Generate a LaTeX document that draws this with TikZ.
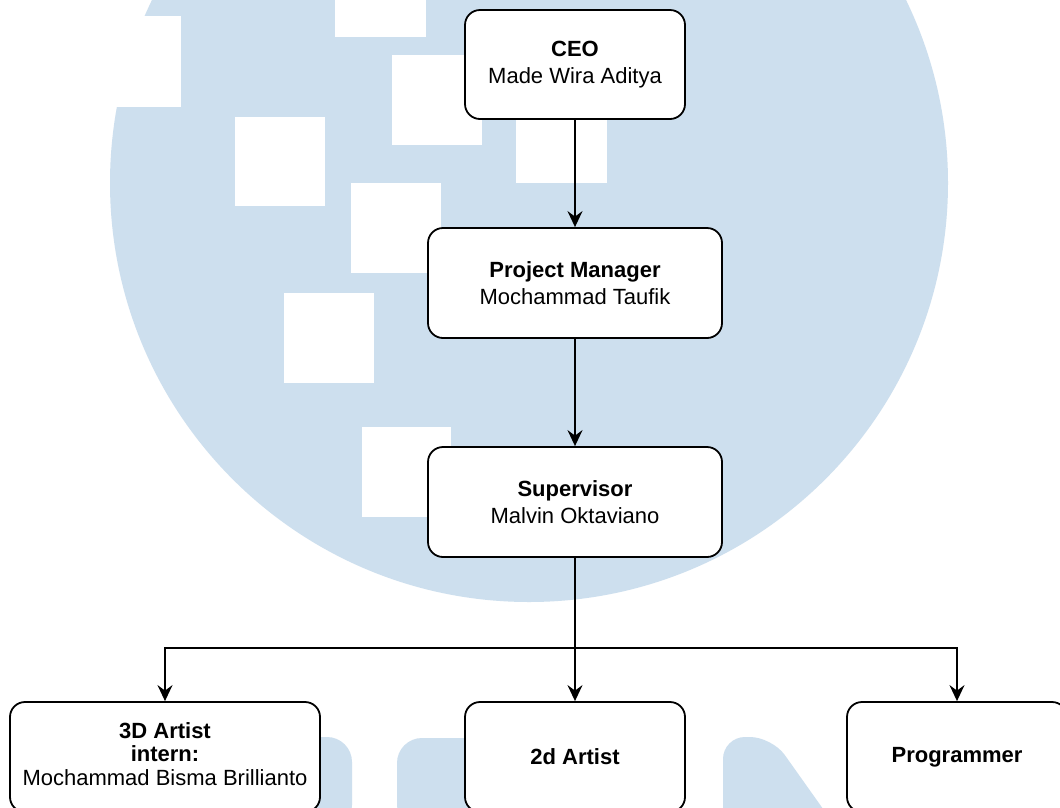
\documentclass[tikz,border=0pt]{standalone}
\usepackage{fontspec}
\setmainfont{Liberation Sans}
\usetikzlibrary{arrows.meta}
\definecolor{wm}{RGB}{205,223,238}
\begin{document}
\begin{tikzpicture}[x=1pt,y=-1pt,
  box/.style={draw=black, line width=1.8pt, rounded corners=15pt, fill=white,
    align=center, inner sep=0pt, font=\fontsize{22}{27.5}\selectfont},
  arr/.style={draw=black, line width=1.8pt, -{Stealth[length=16pt,width=15pt,inset=5.5pt]}},
  wsq/.style={fill=white}]
\fill[white] (0,0) rectangle (1060,807);
\useasboundingbox (0,0) rectangle (1060,807);
% watermark
\fill[wm] (529,183) circle[radius=419];
\fill[wsq] (90,16) rectangle (181,107);
\fill[wsq] (335,-54) rectangle (426,37);
\fill[wsq] (392,55) rectangle (482,145);
\fill[wsq] (235,117) rectangle (325,206);
\fill[wsq] (351,183) rectangle (441,273);
\fill[wsq] (284,293) rectangle (374,383);
\fill[wsq] (516,92) rectangle (607,183);
\fill[wsq] (362,427) rectangle (451,517);
\fill[wm, rounded corners=25pt] (280,830) -- (280,737) -- (352,737) -- (352,830) -- cycle;
\fill[wm, rounded corners=25pt] (397,830) -- (397,738) -- (500,738) -- (500,830) -- cycle;
\fill[wm, rounded corners=22pt] (723,830) -- (723,737) -- (772,737) -- (838,830) -- cycle;
% nodes
\node[box, minimum width=220pt, minimum height=109pt] (ceo) at (575,64.5) {\textbf{CEO}\\Made Wira Aditya};
\node[box, minimum width=294pt, minimum height=110pt] (pm) at (575,283) {\textbf{Project Manager}\\Mochammad Taufik};
\node[box, minimum width=294pt, minimum height=110pt] (sup) at (575,502) {\textbf{Supervisor}\\Malvin Oktaviano};
\node[box, minimum width=310pt, minimum height=110pt,
  label={[font=\fontsize{22}{23.5}\selectfont, align=center, inner sep=0pt, yshift=3pt]center:{\textbf{3D Artist}\\\textbf{intern:}\\Mochammad Bisma Brillianto}}] (art3) at (165,757) {};
\node[box, minimum width=220pt, minimum height=110pt] (art2) at (575,757) {\textbf{2d Artist}};
\node[box, minimum width=220pt, minimum height=110pt] (prog) at (957,757) {\textbf{Programmer}};
% connectors
\coordinate (br) at (575,648);
\draw[arr] (ceo) -- (pm);
\draw[arr] (pm) -- (sup);
\draw[line width=1.8pt] (sup.south) -- (br);
\draw[arr] (br) -- (art2);
\draw[arr] (br) -| (art3.north);
\draw[arr] (br) -| (prog.north);
\end{tikzpicture}
\end{document}
